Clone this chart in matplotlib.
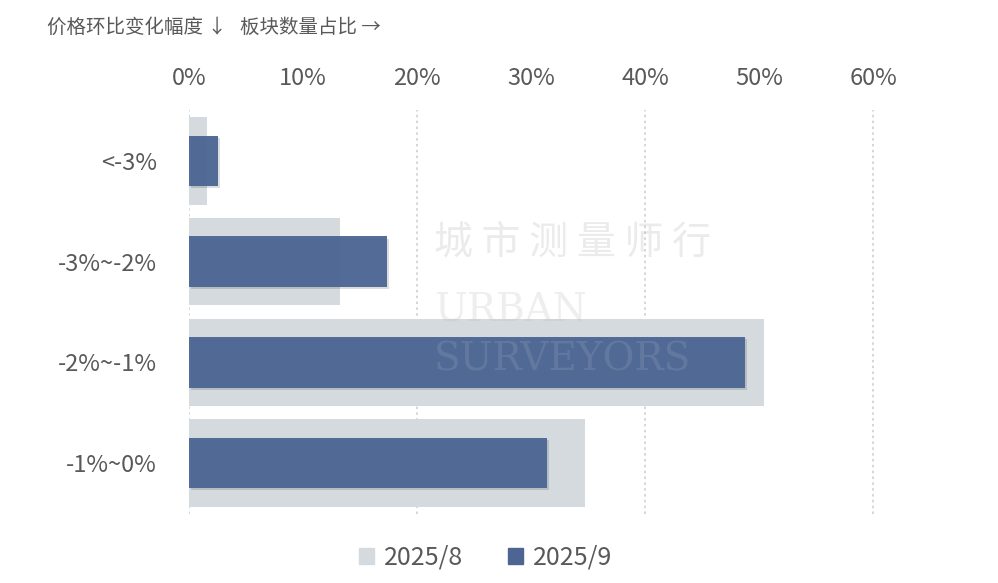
import numpy as np
import matplotlib.pyplot as plt
import matplotlib.patheffects as pe

plt.rcParams['font.family'] = ['Noto Sans CJK SC', 'DejaVu Sans']

# data (share of blocks, %)
categories = ['<-3%', '-3%~-2%', '-2%~-1%', '-1%~0%']
aug = [1.6, 13.2, 50.4, 34.7]
sep = [2.5, 17.4, 48.8, 31.4]
xticks = [0, 10, 20, 30, 40, 50, 60]

txt = '#595959'
gray = '#D4DADD'
blue = '#4C6593'

fig = plt.figure(figsize=(9.98, 5.83), dpi=100)
ax = fig.add_axes([0.1894, 0.1192, 0.6854 * 60.3 / 60, 0.6913])

y = np.arange(len(categories))
ax.barh(y, aug, height=0.87, color=gray, zorder=2)
bars = ax.barh(y, sep, height=0.5, color=blue, alpha=0.95, zorder=3)
for b in bars:
    b.set_path_effects([pe.SimplePatchShadow(offset=(1.5, -1.5), alpha=0.15), pe.Normal()])

ax.set_xlim(0, 60.3)
ax.set_ylim(len(categories) - 0.5, -0.5)
ax.set_yticks(y)
ax.set_yticklabels(categories)
ax.set_xticks(xticks)
ax.set_xticklabels([f'{v}%' for v in xticks])
ax.xaxis.tick_top()
ax.tick_params(axis='both', length=0, labelsize=17, colors=txt)
ax.tick_params(axis='x', pad=15)
ax.tick_params(axis='y', pad=23)
for v in [0, 20, 40, 60]:
    ax.axvline(v, color='#D0D0D0', linestyle=(0, (1.5, 2)), linewidth=1.2, zorder=1)
for s in ax.spines.values():
    s.set_visible(False)

# faint watermark
fig.text(0.435, 0.565, '城 市 测 量 师 行', fontsize=28, color='#BDBDBD', alpha=0.3, zorder=5)
fig.text(0.435, 0.45, 'URBAN', fontsize=28, color='#BDBDBD', alpha=0.25, zorder=5, family='DejaVu Serif')
fig.text(0.435, 0.365, 'SURVEYORS', fontsize=28, color='#9AA7BD', alpha=0.25, zorder=5, family='DejaVu Serif')

fig.text(0.047, 0.953, '价格环比变化幅度 ↓   板块数量占比 →', fontsize=14, color=txt, va='center')

h1 = plt.Rectangle((0, 0), 1, 1, color=gray)
h2 = plt.Rectangle((0, 0), 1, 1, color=blue)
fig.legend([h1, h2], ['2025/8', '2025/9'], loc='center', bbox_to_anchor=(0.487, 0.043),
           ncol=2, frameon=False, fontsize=18, labelcolor=txt, handlelength=0.6,
           handleheight=0.6, handletextpad=0.4, columnspacing=1.8)

fig.savefig('out.png', dpi=100)
